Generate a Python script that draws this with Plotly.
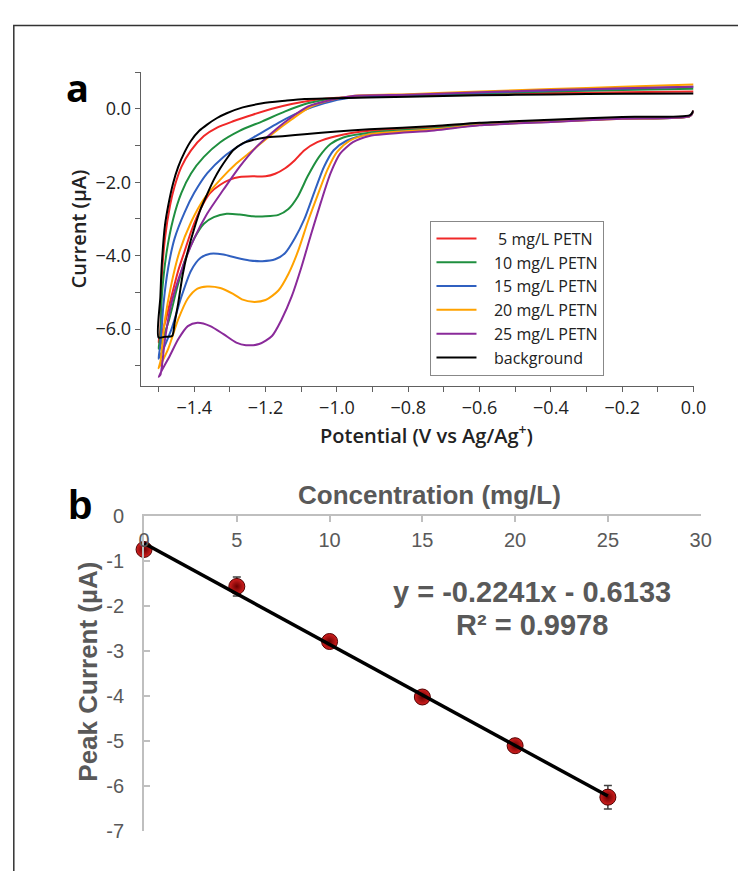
import plotly.graph_objects as go

# ---------------- Panel a: cyclic voltammograms (potential V, current uA) ----------------
E_bg_fwd = [0.0, -0.01, -0.2, -0.4, -0.6, -0.727, -0.909, -1.0, -1.091, -1.145, -1.2, -1.236, -1.264, -1.291,
            -1.309, -1.327, -1.345, -1.364, -1.382, -1.4, -1.418, -1.432, -1.445, -1.455, -1.462, -1.482, -1.5]
I_bg_fwd = [-0.05, -0.17, -0.22, -0.30, -0.38, -0.47, -0.56, -0.62, -0.69, -0.74, -0.78, -0.85, -0.94, -1.13,
            -1.36, -1.62, -1.93, -2.33, -2.73, -3.26, -3.88, -4.50, -5.30, -5.83, -6.19, -6.21, -6.23]
E_bg_rev = [-1.495, -1.491, -1.482, -1.473, -1.459, -1.445, -1.427, -1.409, -1.386, -1.364, -1.336, -1.309,
            -1.264, -1.209, -1.145, -1.091, -1.036, -0.8, -0.6, -0.4, -0.2, 0.0]
I_bg_rev = [-5.12, -4.24, -3.17, -2.64, -2.02, -1.58, -1.18, -0.87, -0.60, -0.43, -0.25, -0.12,
            0.04, 0.15, 0.22, 0.27, 0.28, 0.33, 0.37, 0.39, 0.41, 0.42]

E_5_fwd = [0.0, -0.01, -0.2, -0.4, -0.6, -0.727, -0.909, -1.0, -1.055, -1.091, -1.118, -1.145, -1.173, -1.2,
           -1.236, -1.273, -1.3, -1.327, -1.355, -1.373, -1.391, -1.409, -1.427, -1.445, -1.464, -1.482, -1.5]
I_5_fwd = [-0.05, -0.2, -0.26, -0.34, -0.42, -0.50, -0.60, -0.74, -0.91, -1.13, -1.40, -1.62, -1.77, -1.84,
           -1.84, -1.86, -1.93, -2.07, -2.29, -2.55, -2.91, -3.35, -3.88, -4.41, -5.12, -5.83, -6.37]
E_5_rev = [-1.495, -1.491, -1.482, -1.468, -1.455, -1.436, -1.409, -1.373, -1.336, -1.291, -1.236, -1.182,
           -1.127, -1.064, -1.0, -0.8, -0.6, -0.4, -0.2, 0.0]
I_5_rev = [-6.01, -4.59, -3.53, -2.64, -2.11, -1.58, -1.13, -0.74, -0.51, -0.34, -0.16, 0.0,
           0.13, 0.24, 0.30, 0.36, 0.40, 0.43, 0.45, 0.47]

E_10_fwd = [0.0, -0.01, -0.2, -0.4, -0.6, -0.727, -0.909, -0.982, -1.018, -1.05, -1.082, -1.109, -1.136,
            -1.164, -1.2, -1.236, -1.273, -1.309, -1.345, -1.373, -1.4, -1.427, -1.45, -1.473, -1.5]
I_10_fwd = [-0.05, -0.2, -0.26, -0.34, -0.43, -0.53, -0.65, -0.78, -0.96, -1.31, -1.84, -2.38, -2.73,
            -2.89, -2.93, -2.93, -2.88, -2.86, -2.95, -3.13, -3.53, -4.15, -4.95, -5.83, -6.54]
E_10_rev = [-1.495, -1.491, -1.477, -1.459, -1.436, -1.409, -1.373, -1.327, -1.273, -1.209, -1.145, -1.082,
            -1.018, -0.955, -0.8, -0.6, -0.4, -0.2, 0.0]
I_10_rev = [-6.19, -5.12, -3.88, -3.00, -2.29, -1.76, -1.31, -0.91, -0.60, -0.34, -0.07, 0.15,
            0.27, 0.33, 0.37, 0.42, 0.47, 0.51, 0.55]

E_15_fwd = [0.0, -0.01, -0.2, -0.4, -0.6, -0.727, -0.909, -0.973, -1.009, -1.036, -1.064, -1.091, -1.118,
            -1.145, -1.173, -1.209, -1.245, -1.282, -1.318, -1.355, -1.382, -1.409, -1.436, -1.464, -1.5]
I_15_fwd = [-0.05, -0.2, -0.26, -0.35, -0.44, -0.56, -0.69, -0.87, -1.13, -1.58, -2.29, -3.00, -3.53,
            -3.93, -4.10, -4.15, -4.13, -4.06, -3.97, -3.95, -4.06, -4.41, -5.12, -6.01, -6.81]
E_15_rev = [-1.495, -1.486, -1.473, -1.455, -1.427, -1.4, -1.364, -1.318, -1.273, -1.218, -1.164, -1.1,
            -1.036, -0.964, -0.8, -0.6, -0.4, -0.2, 0.0]
I_15_rev = [-6.45, -5.30, -4.33, -3.53, -2.82, -2.29, -1.76, -1.31, -1.00, -0.69, -0.38, -0.07,
            0.15, 0.30, 0.38, 0.44, 0.50, 0.55, 0.60]

E_20_fwd = [0.0, -0.01, -0.2, -0.4, -0.6, -0.727, -0.909, -0.964, -1.0, -1.027, -1.055, -1.082, -1.109,
            -1.136, -1.164, -1.2, -1.236, -1.264, -1.291, -1.327, -1.364, -1.391, -1.418, -1.445, -1.473, -1.5]
I_20_fwd = [-0.05, -0.2, -0.27, -0.35, -0.44, -0.56, -0.69, -0.87, -1.18, -1.67, -2.38, -3.09, -3.88,
            -4.50, -4.95, -5.21, -5.26, -5.20, -5.04, -4.88, -4.84, -4.90, -5.17, -5.74, -6.54, -7.07]
E_20_rev = [-1.495, -1.482, -1.464, -1.441, -1.409, -1.373, -1.327, -1.282, -1.236, -1.182, -1.127, -1.073,
            -1.018, -0.955, -0.8, -0.6, -0.4, -0.2, 0.0]
I_20_rev = [-6.90, -5.74, -4.77, -3.88, -3.09, -2.46, -1.93, -1.49, -1.13, -0.69, -0.29, 0.06,
            0.24, 0.35, 0.40, 0.47, 0.54, 0.60, 0.66]

E_25_fwd = [0.0, -0.01, -0.2, -0.4, -0.6, -0.727, -0.909, -0.955, -0.991, -1.018, -1.045, -1.073, -1.1,
            -1.127, -1.155, -1.182, -1.218, -1.255, -1.282, -1.318, -1.355, -1.391, -1.418, -1.445, -1.468, -1.5]
I_25_fwd = [-0.05, -0.2, -0.27, -0.36, -0.45, -0.59, -0.74, -0.91, -1.22, -1.76, -2.55, -3.44, -4.33,
            -5.12, -5.74, -6.19, -6.41, -6.44, -6.37, -6.14, -5.92, -5.83, -5.92, -6.28, -6.72, -7.30]
E_25_rev = [-1.495, -1.482, -1.464, -1.436, -1.4, -1.364, -1.318, -1.273, -1.227, -1.182, -1.136, -1.082,
            -1.027, -0.955, -0.8, -0.6, -0.4, -0.2, 0.0]
I_25_rev = [-7.25, -6.28, -5.30, -4.41, -3.53, -2.86, -2.20, -1.58, -1.05, -0.65, -0.29, 0.06,
            0.22, 0.35, 0.38, 0.45, 0.51, 0.56, 0.60]

cv_names = ["5 mg/L PETN", "10 mg/L PETN", "15 mg/L PETN", "20 mg/L PETN", "25 mg/L PETN", "background"]
cv_colors = ["#f02828", "#1f8f3f", "#3060c0", "#ffa200", "#8a2a9a", "#000000"]

# ---------------- Panel b: calibration ----------------
conc = [0, 5, 10, 15, 20, 25]
peak_current = [-0.75, -1.57, -2.79, -4.02, -5.10, -6.24]
peak_err = [0.12, 0.21, 0.05, 0.06, 0.07, 0.26]
fit_slope = -0.2241
fit_intercept = -0.6133
fit_x = [0, 25]
conc_ticks = [0, 5, 10, 15, 20, 25, 30]
current_ticks = [0, -1, -2, -3, -4, -5, -6, -7]

W, H = 738, 871
def px(x):
    return x / W
def py(y):
    return 1 - y / H

NB = "\u00a0"
def legend_label(name):
    pad = NB * 3 + (NB if name[0].isdigit() and name[1] == " " else "")
    return pad + name

fig = go.Figure()

curves = [
    (E_5_fwd + E_5_rev, I_5_fwd + I_5_rev),
    (E_10_fwd + E_10_rev, I_10_fwd + I_10_rev),
    (E_15_fwd + E_15_rev, I_15_fwd + I_15_rev),
    (E_20_fwd + E_20_rev, I_20_fwd + I_20_rev),
    (E_25_fwd + E_25_rev, I_25_fwd + I_25_rev),
    (E_bg_fwd + E_bg_rev, I_bg_fwd + I_bg_rev),
]
for i, ((ex, iy), name, col) in enumerate(zip(curves, cv_names, cv_colors)):
    fig.add_trace(go.Scatter(
        x=ex, y=iy, mode="lines", name=legend_label(name), legendgroup=f"g{i}",
        line=dict(color=col, width=2, shape="spline", smoothing=0.7),
        xaxis="x", yaxis="y"))

fig.add_trace(go.Scatter(
    x=conc, y=peak_current, mode="markers", showlegend=False,
    marker=dict(size=16, color="#d42020", gradient=dict(type="radial", color="#6a0000"),
                line=dict(color="#500000", width=1)),
    error_y=dict(type="data", array=peak_err, color="#404040", thickness=1.5, width=4),
    cliponaxis=False, xaxis="x2", yaxis="y2"))
fig.add_trace(go.Scatter(
    x=fit_x, y=[fit_slope * v + fit_intercept for v in fit_x], mode="lines", showlegend=False,
    line=dict(color="#000000", width=3.5), cliponaxis=False, xaxis="x2", yaxis="y2"))

fa = "Open Sans"
fb = "Liberation Sans, Arial"
grey_a = "#606060"
grey_b = "#bfbfbf"
txt_b = "#595959"

fig.update_layout(
    width=W, height=H, margin=dict(l=0, r=0, t=0, b=0),
    paper_bgcolor="white", plot_bgcolor="white",
    showlegend=True,
    legend=dict(x=px(435.7), y=py(215), xanchor="left", yanchor="top",
                bordercolor="#888888", borderwidth=1, bgcolor="white",
                font=dict(family=fa, size=16, color="#222222"),
                tracegroupgap=0, itemwidth=40),
    xaxis=dict(domain=[px(138.3), px(705.7)], range=[-1.55, 0.0], anchor="y",
               showgrid=False, zeroline=False, showline=True, linecolor=grey_a, linewidth=1,
               ticks="outside", ticklen=5, tickcolor=grey_a, dtick=0.2, tick0=0, tickformat=".1f",
               minor=dict(dtick=0.1, tick0=0, ticks="outside", ticklen=5, tickcolor=grey_a),
               tickfont=dict(family=fa, size=18, color="#222222")),
    yaxis=dict(domain=[py(385), py(62.7)], range=[-7.56, 1.0], anchor="x",
               showgrid=False, zeroline=False, showline=True, linecolor=grey_a, linewidth=1,
               ticks="outside", ticklen=5, tickcolor=grey_a, dtick=2, tick0=0, tickformat=".1f",
               minor=dict(dtick=1, tick0=0, ticks="outside", ticklen=5, tickcolor=grey_a),
               tickfont=dict(family=fa, size=18, color="#222222")),
    xaxis2=dict(domain=[px(141.7), px(713)], range=[0, 30], anchor="y2", side="top",
                showgrid=False, zeroline=False, showline=True, linecolor=grey_b, linewidth=2,
                ticks="inside", ticklen=6, tickcolor=grey_b, tickwidth=2,
                tickmode="array", tickvals=conc_ticks, ticktext=[str(v) for v in conc_ticks],
                ticklabelposition="inside", ticklabelstandoff=12, ticklabeloverflow="allow",
                tickfont=dict(family=fb, size=20, color=txt_b)),
    yaxis2=dict(domain=[py(841.7), py(517.7)], range=[-7, 0], anchor="x2",
                showgrid=False, zeroline=False, showline=True, linecolor=grey_b, linewidth=2,
                ticks="inside", ticklen=6, tickcolor=grey_b, tickwidth=2,
                tickmode="array", tickvals=current_ticks, ticktext=[str(v) for v in current_ticks],
                ticklabelstandoff=14, ticklabeloverflow="allow",
                tickfont=dict(family=fb, size=20, color=txt_b)),
    shapes=[dict(type="rect", xref="paper", yref="paper", x0=px(8), x1=1.1, y0=-0.1, y1=py(15),
                 line=dict(color="#333333", width=1.5), fillcolor="rgba(0,0,0,0)", layer="below")],
)

ann = [
    dict(text="<b>a</b>", x=px(73), y=py(78), font=dict(family=fa, size=38, color="#000000")),
    dict(text="<b>b</b>", x=px(76), y=py(507), font=dict(family=fb, size=40, color="#000000")),
    dict(text="Current (\u03bcA)", x=px(74), y=py(224), textangle=-90,
         font=dict(family=fa, size=20, color="#222222", weight=600)),
    dict(text="Potential (V vs Ag/Ag<sup>+</sup>)", x=px(432), y=py(434),
         font=dict(family=fa, size=20, color="#222222", weight=600)),
    dict(text="<b>Concentration (mg/L)</b>", x=px(434.5), y=py(497),
         font=dict(family=fb, size=26, color=txt_b)),
    dict(text="<b>Peak Current (\u00b5A)</b>", x=px(84), y=py(678), textangle=-90,
         font=dict(family=fb, size=26, color=txt_b)),
    dict(text="<b>y = -0.2241x - 0.6133</b>", x=px(540), y=py(596),
         font=dict(family=fb, size=29, color=txt_b)),
    dict(text="<b>R\u00b2 = 0.9978</b>", x=px(540), y=py(630),
         font=dict(family=fb, size=29, color=txt_b)),
]
for a in ann:
    a.update(xref="paper", yref="paper", showarrow=False, xanchor="center", yanchor="middle")
fig.update_layout(annotations=ann)

fig.write_html("out.html",
               post_script="document.body.style.margin='0';document.body.style.overflow='hidden';")
